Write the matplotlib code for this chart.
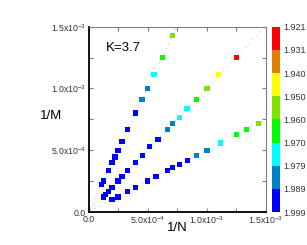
import numpy as np
import matplotlib
matplotlib.use("Agg")
import matplotlib.pyplot as plt
from matplotlib.colors import ListedColormap, BoundaryNorm
import matplotlib.colorbar as mcb
from matplotlib.ticker import FixedLocator, FixedFormatter, MultipleLocator

plt.rcParams['font.family'] = ['Liberation Sans', 'DejaVu Sans']
plt.rcParams['mathtext.fontset'] = 'custom'
plt.rcParams['mathtext.rm'] = 'Liberation Sans'
plt.rcParams['mathtext.it'] = 'Liberation Sans'

# ---- data (units of 1e-3) ----
xA = [0.1115, 0.125, 0.1672, 0.1985, 0.2238, 0.2492, 0.2829, 0.3311, 0.3986, 0.4519, 0.5000, 0.5532, 0.6233, 0.7111]
yA = [0.2241, 0.2508, 0.3341, 0.4021, 0.4450, 0.4992, 0.5688, 0.6691, 0.8010, 0.9086, 1.0008, 1.1141, 1.2516, 1.4320]
cA = [1.994]*9 + [1.984]*2 + [1.9745] + [1.965] + [1.955]

xB = [0.125, 0.1419, 0.1672, 0.1985, 0.2492, 0.2829, 0.3311, 0.3986, 0.4544, 0.5169, 0.5870, 0.6655, 0.7111, 0.7703, 0.8319, 0.9105, 1.0008, 1.0997, 1.2483]
yB = [0.1214, 0.1400, 0.1675, 0.1998, 0.2508, 0.2856, 0.3341, 0.3989, 0.4555, 0.5283, 0.5882, 0.6691, 0.7160, 0.7662, 0.8358, 0.9086, 1.0008, 1.1141, 1.2516]
cB = [1.994]*11 + [1.984]*2 + [1.9745]*2 + [1.965] + [1.955] + [1.945] + [1.926]

xC = [0.1985, 0.2492, 0.3311, 0.3986, 0.4966, 0.5701, 0.6655, 0.7111, 0.7703, 0.8345, 0.9105, 1.0008, 1.1132, 1.2500, 1.3345, 1.4333]
yC = [0.0995, 0.1214, 0.1675, 0.1998, 0.2508, 0.2856, 0.3341, 0.3584, 0.3859, 0.4183, 0.4571, 0.5000, 0.5583, 0.6254, 0.6691, 0.7160]
cC = [1.994]*10 + [1.984]*2 + [1.9745] + [1.965]*2 + [1.955]

bounds = [1.921, 1.931, 1.940, 1.950, 1.960, 1.970, 1.979, 1.989, 1.999]
bound_labels = ["1.921", "1.931", "1.940", "1.950", "1.960", "1.970", "1.979", "1.989", "1.999"]
band_colors = ["#ff0000", "#e08000", "#ffff00", "#80e000", "#00ff00", "#00ffff", "#0080c8", "#0000ff"]

xticks = [0.0, 0.5e-3, 1.0e-3, 1.5e-3]
xticklabels = ["0.0", "5.0x10$^{-4}$", "1.0x10$^{-3}$", "1.5x10$^{-3}$"]
yticks = [0.0, 0.5e-3, 1.0e-3, 1.5e-3]
yticklabels = ["0.0", "5.0x10$^{-4}$", "1.0x10$^{-3}$", "1.5x10$^{-3}$"]

cmap = ListedColormap(band_colors)
norm = BoundaryNorm(bounds, cmap.N)

W, H = 307, 245
fig = plt.figure(figsize=(W/100, H/100), dpi=100)
ax = fig.add_axes([88.5/W, 1-212/H, (266-88.5)/W, (212-26.7)/H])

xx = np.linspace(0.015e-3, 1.6e-3, 50)
for xs, ys, cs in [(xA, yA, cA), (xB, yB, cB), (xC, yC, cC)]:
    xs = np.array(xs)*1e-3
    ys = np.array(ys)*1e-3
    p = np.polyfit(xs, ys, 1)
    ax.plot(xx, np.polyval(p, xx), color="#b8b8b8", lw=0.7, ls=(0, (1, 4.5)), zorder=1)
    ax.scatter(xs, ys, c=cs, cmap=cmap, norm=norm, marker='s', s=14, linewidths=0, zorder=2)

ax.set_xlim(0, 1.5e-3)
ax.set_ylim(0, 1.5e-3)
ax.xaxis.set_major_locator(FixedLocator(xticks))
ax.xaxis.set_major_formatter(FixedFormatter(xticklabels))
ax.yaxis.set_major_locator(FixedLocator(yticks))
ax.yaxis.set_major_formatter(FixedFormatter(yticklabels))
ax.xaxis.set_minor_locator(MultipleLocator(0.25e-3))
ax.yaxis.set_minor_locator(MultipleLocator(0.25e-3))
ax.tick_params(which='both', direction='in', top=True, right=True, length=3, width=0.8,
               color='#808080', labelsize=6.3, labelcolor='#333333', pad=2)
for s in ['top', 'right']:
    ax.spines[s].set_color('#808080')
    ax.spines[s].set_linewidth(0.8)
for s in ['left', 'bottom']:
    ax.spines[s].set_color('#000000')
    ax.spines[s].set_linewidth(1.3)

fig.text(51/W, 1-116/H, "1/M", fontsize=9.5, ha='center', va='center')
fig.text(177/W, 1-228/H, "1/N", fontsize=9.5, ha='center', va='center')
fig.text(106/W, 1-48/H, "K=3.7", fontsize=9.5, ha='left', va='center')

cax = fig.add_axes([272/W, 1-212/H, 7.5/W, (212-26.7)/H])
cb = mcb.ColorbarBase(cax, cmap=cmap, norm=norm, boundaries=bounds, ticks=bounds, spacing='uniform')
cb.outline.set_visible(False)
cax.invert_yaxis()
cb.set_ticklabels(bound_labels)
cax.tick_params(length=0, labelsize=6.5, labelcolor='#333333', pad=3)

fig.savefig("out.png", dpi=100)
